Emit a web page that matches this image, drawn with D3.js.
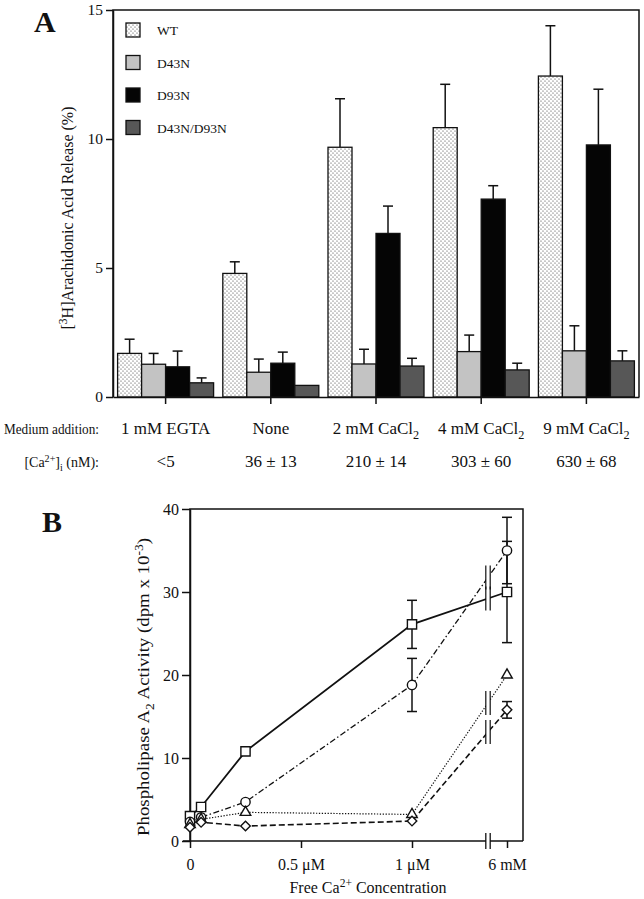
<!DOCTYPE html>
<html>
<head>
<meta charset="utf-8">
<script src="https://cdn.jsdelivr.net/npm/d3@7"></script>
<style>
body{margin:0;background:#fff;}
text{font-family:"Liberation Serif","Times New Roman",serif;fill:#111;}
</style>
</head>
<body>
<svg id="fig" width="644" height="899"></svg>
<script>
// ---- panel A data ----
var groups = ["1 mM EGTA", "None", "2 mM CaCl", "4 mM CaCl", "9 mM CaCl"];
var groupSub = ["", "", "2", "2", "2"];
var caLabels = ["<5", "36 \u00b1 13", "210 \u00b1 14", "303 \u00b1 60", "630 \u00b1 68"];
var strains = ["WT", "D43N", "D93N", "D43N/D93N"];
var wt      = [1.69, 4.79, 9.68, 10.44, 12.44];
var wtErr   = [0.55, 0.45, 1.88, 1.68, 1.95];
var d43     = [1.27, 0.96, 1.28, 1.76, 1.79];
var d43Err  = [0.42, 0.51, 0.57, 0.64, 0.97];
var d93     = [1.17, 1.31, 6.34, 7.67, 9.77];
var d93Err  = [0.61, 0.43, 1.06, 0.52, 2.16];
var dd      = [0.55, 0.45, 1.20, 1.05, 1.40];
var ddErr   = [0.19, 0, 0.30, 0.26, 0.39];
var yTicksA = [0, 5, 10, 15];

// ---- panel B data ----
var conc = [0, 0.05, 0.25, 1, 6000];   // uM (6 mM = 6000 uM, broken axis)
var xTickVals = [0, 0.5, 1, 6000];
var xTickLabels = ["0", "0.5 \u03bcM", "1 \u03bcM", "6 mM"];
var sq      = [3.0, 4.1, 10.8, 26.1, 30.0];
var sqErr   = [0, 0, 0, 2.9, 6.1];
var circ    = [2.3, 2.85, 4.7, 18.8, 35.0];
var circErr = [0, 0, 0, 3.2, 4.0];
var tri     = [2.0, 2.6, 3.45, 3.2, 20.0];
var triErr  = [0, 0, 0, 0, 0];
var dia     = [1.65, 2.25, 1.8, 2.4, 15.8];
var diaErr  = [0, 0, 0, 0, 1.0];
var yTicksB = [0, 10, 20, 30, 40];

var svg = d3.select("#fig");

// text with sub/superscripts, parts = [[text, "sup"|"sub"|""], ...]
function rich(t, parts, fs) {
	var shift = 0;
	parts.forEach(function(p){
		var target = p[1] == "sup" ? -0.38*fs : p[1] == "sub" ? 0.3*fs : 0;
		var s = t.append("tspan").text(p[0]);
		if (target != shift) s.attr("dy", target - shift);
		if (p[1]) s.attr("font-size", fs*0.72);
		shift = target;
	});
	return t;
}

// stipple pattern for WT
var defs = svg.append("defs");
var pat = defs.append("pattern").attr("id","dots")
	.attr("width",4).attr("height",4).attr("patternUnits","userSpaceOnUse");
pat.append("rect").attr("width",4).attr("height",4).attr("fill","#fff");
pat.append("circle").attr("cx",1).attr("cy",1).attr("r",0.6).attr("fill","#333");
pat.append("circle").attr("cx",3).attr("cy",3).attr("r",0.6).attr("fill","#333");

// ================= PANEL A =================
var xA = d3.scaleBand().domain(groups).range([113, 639]);
var sub = d3.scaleBand().domain(strains).range([-48, 48]);
var yA = d3.scaleLinear().domain([0, 15]).range([397, 10]);

var fills = {"WT": "url(#dots)", "D43N": "#c3c3c3", "D93N": "#050505", "D43N/D93N": "#575757"};
var vals = {"WT": wt, "D43N": d43, "D93N": d93, "D43N/D93N": dd};
var errs = {"WT": wtErr, "D43N": d43Err, "D93N": d93Err, "D43N/D93N": ddErr};

var barData = [];
groups.forEach(function(g, i){
	strains.forEach(function(s){
		barData.push({g: g, s: s, v: vals[s][i], e: errs[s][i]});
	});
});
function cx(d){ return xA(d.g) + xA.bandwidth()/2 + sub(d.s); }

// error bars (drawn first, only the upper half shows)
var eb = svg.append("g").attr("stroke","#111").attr("stroke-width",1.5);
barData.filter(function(d){ return d.e > 0; }).forEach(function(d){
	var x0 = cx(d) + sub.bandwidth()/2;
	eb.append("line").attr("x1",x0).attr("x2",x0).attr("y1",yA(d.v)).attr("y2",yA(d.v+d.e));
	eb.append("line").attr("x1",x0-5).attr("x2",x0+5).attr("y1",yA(d.v+d.e)).attr("y2",yA(d.v+d.e));
});

svg.append("g").selectAll("rect")
	.data(barData)
	.join("rect")
	.attr("x", cx)
	.attr("y", function(d){ return yA(d.v); })
	.attr("width", sub.bandwidth())
	.attr("height", function(d){ return yA(0) - yA(d.v); })
	.attr("fill", function(d){ return fills[d.s]; })
	.attr("stroke", "#111")
	.attr("stroke-width", 1.3);

// frame
svg.append("path")
	.attr("d", "M113,397V10H639V397")
	.attr("fill","none").attr("stroke","#111").attr("stroke-width",1.5);

var axA = svg.append("g").attr("transform","translate(113,0)")
	.call(d3.axisLeft(yA).tickValues(yTicksA).tickSize(7).tickSizeOuter(0).tickPadding(3));
axA.selectAll("text").attr("font-size",15.5);
axA.selectAll("line,path").attr("stroke","#111").attr("stroke-width",1.5);

var axAx = svg.append("g").attr("transform","translate(0,397)")
	.call(d3.axisBottom(xA).tickSize(7).tickSizeOuter(0).tickFormat(""));
axAx.selectAll("line,path").attr("stroke","#111").attr("stroke-width",1.5);

// y label
rich(svg.append("text")
	.attr("transform","translate(73,218) rotate(-90)")
	.attr("text-anchor","middle").attr("font-size",16),
	[["[",""],["3","sup"],["H]Arachidonic Acid Release (%)",""]], 16);

// legend
var leg = svg.append("g");
strains.forEach(function(s, i){
	leg.append("rect").attr("x",126).attr("y",23 + i*32.5).attr("width",14).attr("height",14)
		.attr("fill",fills[s]).attr("stroke","#111").attr("stroke-width",1.3);
	leg.append("text").attr("x",157).attr("y",35 + i*32.5).attr("font-size",13.5).text(s);
});

svg.append("text").attr("x",34).attr("y",32).attr("font-size",30).attr("font-weight","bold").text("A");

// bottom rows
svg.append("text").attr("x",4).attr("y",434).attr("font-size",14)
	.attr("textLength",95).attr("lengthAdjust","spacingAndGlyphs")
	.text("Medium addition:");
rich(svg.append("text").attr("x",99).attr("y",467).attr("text-anchor","end").attr("font-size",14),
	[["[Ca",""],["2+","sup"],["]",""],["i","sub"],[" (nM):",""]], 14);
groups.forEach(function(g, i){
	var c = xA(g) + xA.bandwidth()/2;
	var t = svg.append("text").attr("x",c).attr("y",434).attr("text-anchor","middle").attr("font-size",17);
	rich(t, [[g,""],[groupSub[i],"sub"]], 17);
	svg.append("text").attr("x",c).attr("y",467).attr("text-anchor","middle").attr("font-size",17)
		.text(caLabels[i]);
});

// ================= PANEL B =================
var xB = d3.scaleLinear().domain([0, 1, 6000]).range([190, 412, 507]);
var yB = d3.scaleLinear().domain([0, 40]).range([841, 509]);
var breakX = xB(1) + 0.8*(xB(6000) - xB(1));

var series = [
	{v: sq,   e: sqErr,   sym: "square",   dash: null,            w: 1.8},
	{v: circ, e: circErr, sym: "circle",   dash: "6,2.5,1.5,2.5", w: 1.3},
	{v: tri,  e: triErr,  sym: "triangle", dash: "1.3,1.6",       w: 1.2},
	{v: dia,  e: diaErr,  sym: "diamond",  dash: "6,3",           w: 1.6}
];

// frame + axes
svg.append("path").attr("d","M190,841V509H523V841")
	.attr("fill","none").attr("stroke","#111").attr("stroke-width",1.5);

var axB = svg.append("g").attr("transform","translate(190,0)")
	.call(d3.axisLeft(yB).tickValues(yTicksB).tickSize(8).tickSizeOuter(0).tickPadding(3));
axB.selectAll("text").attr("font-size",16);
axB.selectAll("line,path").attr("stroke","#111").attr("stroke-width",1.5);

var axBx = svg.append("g").attr("transform","translate(0,841)")
	.call(d3.axisBottom(xB).tickValues(xTickVals).tickSize(7).tickSizeOuter(0).tickPadding(11)
		.tickFormat(function(d, i){ return xTickLabels[i]; }));
axBx.select(".domain").attr("d","M183,0H523");
axBx.selectAll("text").attr("font-size",16);
axBx.selectAll("line,path").attr("stroke","#111").attr("stroke-width",1.5);

// axis break
svg.append("rect").attr("x",breakX-2).attr("y",838).attr("width",4).attr("height",6).attr("fill","#fff");
[breakX-2.2, breakX+2.2].forEach(function(bx){
	svg.append("line").attr("x1",bx).attr("x2",bx).attr("y1",833).attr("y2",849)
		.attr("stroke","#111").attr("stroke-width",1.3);
});

// error bars
var ebB = svg.append("g").attr("stroke","#111").attr("stroke-width",1.5);
series.forEach(function(s){
	s.v.forEach(function(v, i){
		if (!s.e[i]) return;
		var x0 = xB(conc[i]);
		ebB.append("line").attr("x1",x0).attr("x2",x0).attr("y1",yB(v - s.e[i])).attr("y2",yB(v + s.e[i]));
		[v - s.e[i], v + s.e[i]].forEach(function(c){
			ebB.append("line").attr("x1",x0-5).attr("x2",x0+5).attr("y1",yB(c)).attr("y2",yB(c));
		});
	});
});

// lines
var line = d3.line().x(function(d, i){ return xB(conc[i]); }).y(function(d){ return yB(d); });
series.forEach(function(s){
	svg.append("path").datum(s.v).attr("d", line)
		.attr("fill","none").attr("stroke","#111").attr("stroke-width",s.w)
		.attr("stroke-dasharray", s.dash);
	// break marks on the 1 uM -> 6 mM segment
	var t = (breakX - xB(1)) / (xB(6000) - xB(1));
	var yb = yB(s.v[3]) + t*(yB(s.v[4]) - yB(s.v[3]));
	svg.append("rect").attr("x",breakX-2).attr("y",yb-6).attr("width",4).attr("height",12).attr("fill","#fff");
	[breakX-2.2, breakX+2.2].forEach(function(bx){
		svg.append("line").attr("x1",bx).attr("x2",bx).attr("y1",yb-12).attr("y2",yb+12)
			.attr("stroke","#111").attr("stroke-width",1.2);
	});
});

// markers
var symType = {square: d3.symbolSquare, circle: d3.symbolCircle, triangle: d3.symbolTriangle, diamond: d3.symbolSquare};
var symSize = {square: 85, circle: 68, triangle: 48, diamond: 46};
series.forEach(function(s){
	svg.append("g").selectAll("path")
		.data(s.v)
		.join("path")
		.attr("d", d3.symbol().type(symType[s.sym]).size(symSize[s.sym]))
		.attr("transform", function(d, i){
			return "translate(" + xB(conc[i]) + "," + yB(d) + ")" + (s.sym == "diamond" ? " rotate(45)" : "");
		})
		.attr("fill","#fff").attr("stroke","#111").attr("stroke-width",1.4);
});

// labels
rich(svg.append("text")
	.attr("transform","translate(149,687) rotate(-90)")
	.attr("text-anchor","middle").attr("font-size",16.5)
	.attr("textLength",298).attr("lengthAdjust","spacingAndGlyphs"),
	[["Phospholipase A",""],["2","sub"],[" Activity (dpm x 10",""],["-3","sup"],[")",""]], 16.5);
rich(svg.append("text").attr("x",368).attr("y",893).attr("text-anchor","middle").attr("font-size",16),
	[["Free Ca",""],["2+","sup"],[" Concentration",""]], 16);

svg.append("text").attr("x",42).attr("y",532).attr("font-size",30).attr("font-weight","bold").text("B");
</script>
</body>
</html>
